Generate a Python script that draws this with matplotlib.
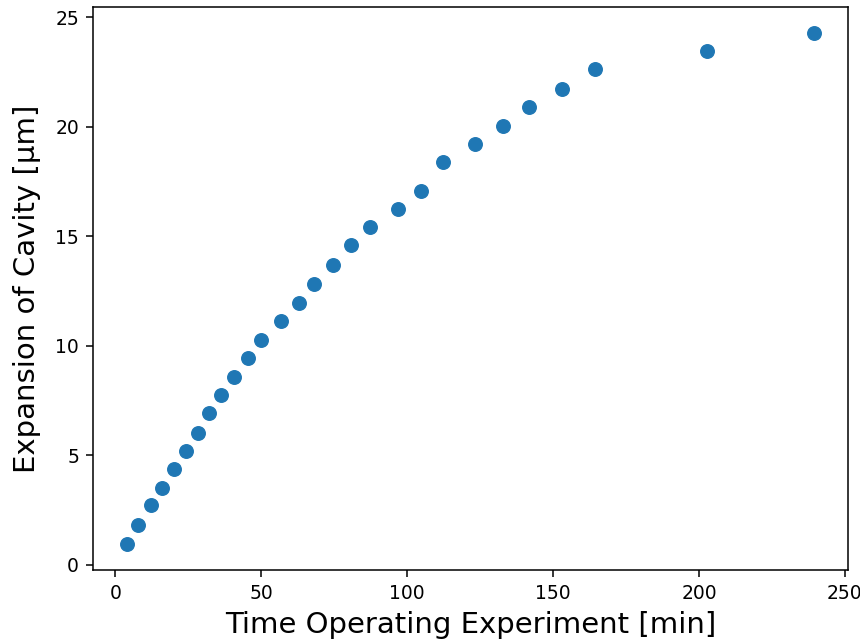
import matplotlib
matplotlib.use("Agg")
import matplotlib.pyplot as plt

# time [min] and cavity expansion [um]
time_min = [4.1, 7.9, 12.1, 15.9, 20.0, 24.1, 28.3, 32.1, 36.2, 40.7, 45.5, 50.0,
            56.6, 62.8, 67.9, 74.5, 80.7, 87.2, 96.9, 104.8, 112.4, 123.1, 132.8,
            141.7, 153.1, 164.5, 202.8, 239.3]
expansion_um = [0.92, 1.79, 2.70, 3.49, 4.36, 5.18, 6.00, 6.93, 7.75, 8.58, 9.45, 10.28,
                11.15, 11.97, 12.84, 13.67, 14.59, 15.41, 16.24, 17.06, 18.39, 19.22, 20.05,
                20.92, 21.74, 22.66, 23.49, 24.31]

fig = plt.figure(figsize=(8.6, 6.41), dpi=100)
ax = fig.add_axes([93 / 860, 71 / 641, 755 / 860, 563 / 641])
ax.scatter(time_min, expansion_um, s=95, color='#1f77b4')
ax.set_xlabel('Time Operating Experiment [min]', fontsize=21, labelpad=6)
ax.set_ylabel('Expansion of Cavity [µm]', fontsize=21, labelpad=10)
ax.tick_params(labelsize=13.5, length=5, width=1.1, pad=5)
for sp in ax.spines.values():
    sp.set_linewidth(1.1)

fig.savefig('out.png', dpi=100)
